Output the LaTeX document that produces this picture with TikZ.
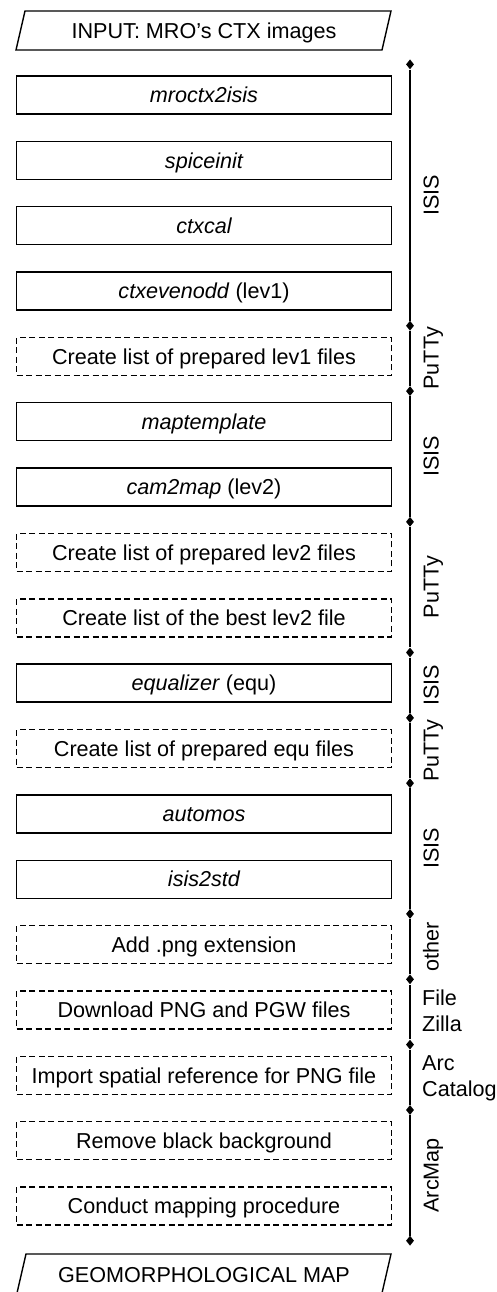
\documentclass[tikz,border=0pt]{standalone}
\usepackage{fontspec}
\setmainfont{Liberation Sans}
\usetikzlibrary{shapes.geometric}
\begin{document}
\begin{tikzpicture}[x=1pt,y=-1pt,
  txt/.style={font=\fontsize{21.6}{25}\selectfont, text height=15.5pt, text depth=0pt, inner sep=0pt},
  solidbox/.style={txt, draw, line width=1.4pt, minimum width=375pt, minimum height=38pt},
  dashbox/.style={solidbox, dash pattern=on 6pt off 3.5pt},
  sepmark/.style={diamond, fill=black, draw=none, inner sep=0pt, minimum width=8pt, minimum height=10pt},
  toollabel/.style={font=\fontsize{21.6}{25}\selectfont, rotate=90, anchor=base, inner sep=0pt},
  sidelabel/.style={font=\fontsize{21.6}{26}\selectfont, anchor=west, align=left, inner sep=0pt},
  axisline/.style={line width=1.4pt},
  io/.style={line width=1.4pt, line join=miter}]
\useasboundingbox (0,0) rectangle (497,1292);

% input / output parallelograms
\coordinate (i1) at (16,50);
\coordinate (i2) at (25,11);
\coordinate (i3) at (391,11);
\coordinate (i4) at (382,50);
\draw[io] (i1) -- (i2) -- (i3) -- (i4) -- cycle;
\node[txt] (input) at (204,30.5) {INPUT: MRO’s CTX images};

\coordinate (o1) at (17,1293);
\coordinate (o2) at (26,1254);
\coordinate (o3) at (391,1254);
\coordinate (o4) at (382,1293);
\draw[io] (o1) -- (o2) -- (o3) -- (o4) -- cycle;
\node[txt] (output) at (204,1275) {GEOMORPHOLOGICAL MAP};

% process boxes
\node[solidbox] (b0)  at (204, {95+65.35*0})  {\itshape mroctx2isis};
\node[solidbox] (b1)  at (204, {95+65.35*1})  {\itshape spiceinit};
\node[solidbox] (b2)  at (204, {95+65.35*2})  {\itshape ctxcal};
\node[solidbox] (b3)  at (204, {95+65.35*3})  {\textit{ctxevenodd} (lev1)};
\node[dashbox]  (b4)  at (204, {95+65.35*4})  {Create list of prepared lev1 files};
\node[solidbox] (b5)  at (204, {95+65.35*5})  {\itshape maptemplate};
\node[solidbox] (b6)  at (204, {95+65.35*6})  {\textit{cam2map} (lev2)};
\node[dashbox]  (b7)  at (204, {95+65.35*7})  {Create list of prepared lev2 files};
\node[dashbox]  (b8)  at (204, {95+65.35*8})  {Create list of the best lev2 file};
\node[solidbox] (b9)  at (204, {95+65.35*9})  {\textit{equalizer} (equ)};
\node[dashbox]  (b10) at (204, {95+65.35*10}) {Create list of prepared equ files};
\node[solidbox] (b11) at (204, {95+65.35*11}) {\itshape automos};
\node[solidbox] (b12) at (204, {95+65.35*12}) {\itshape isis2std};
\node[dashbox]  (b13) at (204, {95+65.35*13}) {Add .png extension};
\node[dashbox]  (b14) at (204, {95+65.35*14}) {Download PNG and PGW files};
\node[dashbox]  (b15) at (204, {95+65.35*15}) {Import spatial reference for PNG file};
\node[dashbox]  (b16) at (204, {95+65.35*16}) {Remove black background};
\node[dashbox]  (b17) at (204, {95+65.35*17}) {Conduct mapping procedure};

% separators on the tool axis
\node[sepmark] (s0)  at (410, 64.35) {};
\node[sepmark] (s1)  at (410, 325.75) {};
\node[sepmark] (s2)  at (410, 391.1) {};
\node[sepmark] (s3)  at (410, 521.8) {};
\node[sepmark] (s4)  at (410, 652.5) {};
\node[sepmark] (s5)  at (410, 717.9) {};
\node[sepmark] (s6)  at (410, 783.2) {};
\node[sepmark] (s7)  at (410, 913.9) {};
\node[sepmark] (s8)  at (410, 979.3) {};
\node[sepmark] (s9)  at (410, 1044.6) {};
\node[sepmark] (s10) at (410, 1110) {};
\node[sepmark] (s11) at (410, 1240.7) {};

\draw[axisline] (s0) -- (s1) -- (s2) -- (s3) -- (s4) -- (s5) -- (s6)
  -- (s7) -- (s8) -- (s9) -- (s10) -- (s11);

% tool labels
\node[toollabel] (t0) at (438.5, 195.05) {ISIS};
\node[toollabel] (t1) at (438.5, 358.4) {PuTTy};
\node[toollabel] (t2) at (438.5, 456.45) {ISIS};
\node[toollabel] (t3) at (438.5, 587.15) {PuTTy};
\node[toollabel] (t4) at (438.5, 685.2) {ISIS};
\node[toollabel] (t5) at (438.5, 750.55) {PuTTy};
\node[toollabel] (t6) at (438.5, 848.55) {ISIS};
\node[toollabel] (t7) at (438.5, 946.6) {other};
\node[sidelabel] (t8) at (422, 1010.5) {File\\Zilla};
\node[sidelabel] (t9) at (422, 1078) {Arc\\Catalog};
\node[toollabel] (t10) at (438.5, 1175.35) {ArcMap};
\end{tikzpicture}
\end{document}
